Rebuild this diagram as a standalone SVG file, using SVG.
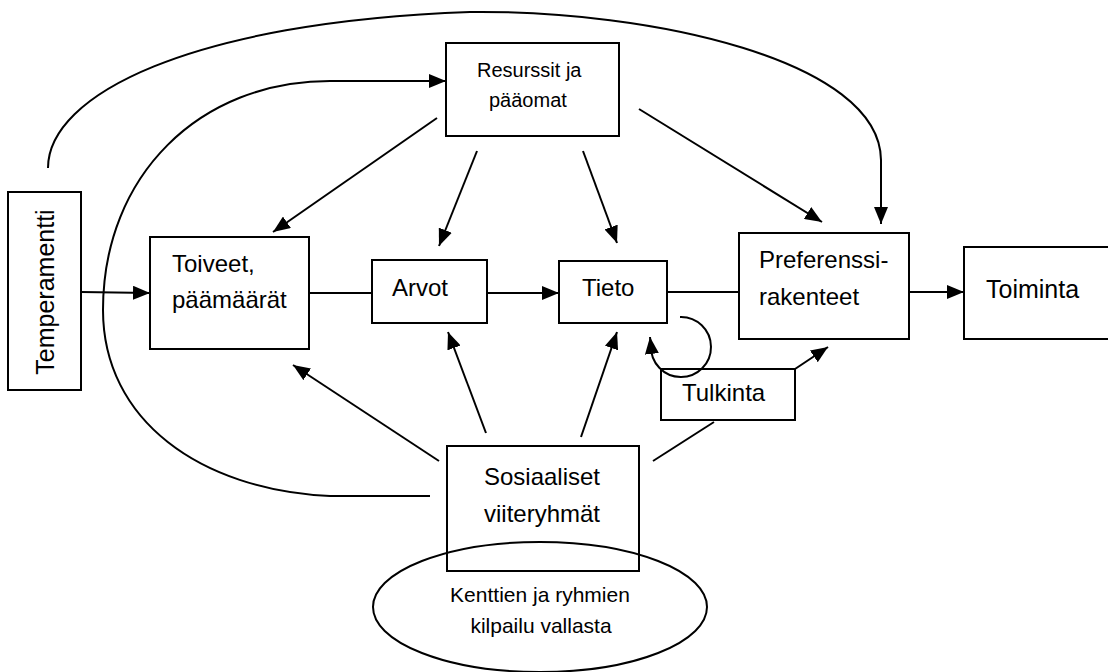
<svg xmlns="http://www.w3.org/2000/svg" width="1108" height="672" viewBox="0 0 1108 672">
  <style>
    .box { fill: #ffffff; stroke: #000000; stroke-width: 2; }
    .ell { fill: none; stroke: #000000; stroke-width: 2; }
    .lbl { font-family: "Liberation Sans", Arial, sans-serif; font-size: 24px; fill: #000000; }
    .sm { font-size: 20px; }
    .ov { font-size: 21px; }
    .mid { text-anchor: middle; }
    .ln { fill: none; stroke: #000000; stroke-width: 2; }
    .arr { marker-end: url(#ah); }
  </style>
  <defs>
    <marker id="ah" markerUnits="userSpaceOnUse" markerWidth="18" markerHeight="14" refX="17" refY="7" orient="auto">
      <path d="M0,0 L17,7 L0,14 z" fill="#000000"/>
    </marker>
  </defs>
  <rect width="1108" height="672" fill="#ffffff"/>

  <g id="temperamentti">
    <rect class="box" x="8" y="192" width="73" height="198"/>
    <text class="lbl mid" style="font-size:25px" transform="translate(54,292) rotate(-90)">Temperamentti</text>
  </g>

  <g id="resurssit">
    <rect class="box" x="446" y="43" width="173" height="93"/>
    <text class="lbl sm" x="477" y="77">Resurssit ja</text>
    <text class="lbl sm" x="489" y="107">pääomat</text>
  </g>

  <g id="toiveet">
    <rect class="box" x="150" y="237" width="159" height="112"/>
    <text class="lbl" x="172" y="272">Toiveet,</text>
    <text class="lbl" x="172" y="308">päämäärät</text>
  </g>

  <g id="arvot">
    <rect class="box" x="372" y="260" width="115" height="63"/>
    <text class="lbl" x="392" y="296">Arvot</text>
  </g>

  <g id="tieto">
    <rect class="box" x="559" y="261" width="108" height="62"/>
    <text class="lbl" x="582" y="296">Tieto</text>
  </g>

  <g id="preferenssi">
    <rect class="box" x="739" y="233" width="170" height="106"/>
    <text class="lbl" x="759" y="268">Preferenssi-</text>
    <text class="lbl" x="759" y="305">rakenteet</text>
  </g>

  <g id="toiminta">
    <rect class="box" x="964" y="247" width="160" height="92"/>
    <text class="lbl" style="font-size:25px" x="986" y="298">Toiminta</text>
  </g>

  <g id="tulkinta">
    <rect class="box" x="661" y="369" width="134" height="51"/>
    <text class="lbl" x="682" y="401">Tulkinta</text>
  </g>

  <g id="sosiaaliset">
    <rect class="box" x="447" y="446" width="192" height="125"/>
    <text class="lbl mid" x="542" y="485">Sosiaaliset</text>
    <text class="lbl mid" x="542" y="522">viiteryhmät</text>
  </g>

  <g id="kilpailu">
    <ellipse class="ell" cx="540" cy="607" rx="167" ry="65"/>
    <text class="lbl ov mid" x="540" y="602">Kenttien ja ryhmien</text>
    <text class="lbl ov mid" x="541" y="633">kilpailu vallasta</text>
  </g>

  <!-- connectors -->
  <g id="connectors">
    <!-- long arc: Temperamentti over the top to Preferenssirakenteet -->
    <path class="ln arr" d="M48,168 C48,95 190,22 470,12 C650,10 880,60 881,160 L881,224"/>
    <!-- arc: Sosiaaliset viiteryhmät round the left to Resurssit ja pääomat -->
    <path class="ln arr" d="M430,496 L330,496 C200,490 103,420 103,310 C103,175 200,81 330,81 L446,81"/>
    <!-- from Resurssit ja pääomat -->
    <line class="ln arr" x1="437" y1="118" x2="273" y2="232"/>
    <line class="ln arr" x1="477" y1="151" x2="439" y2="246"/>
    <line class="ln arr" x1="583" y1="151" x2="617" y2="243"/>
    <line class="ln arr" x1="639" y1="109" x2="822" y2="222"/>
    <!-- main chain -->
    <line class="ln arr" x1="81" y1="292" x2="150" y2="293"/>
    <line class="ln" x1="309" y1="293" x2="372" y2="293"/>
    <line class="ln arr" x1="487" y1="293" x2="559" y2="293"/>
    <line class="ln" x1="667" y1="292" x2="739" y2="292"/>
    <line class="ln arr" x1="909" y1="292" x2="964" y2="292"/>
    <!-- from Sosiaaliset viiteryhmät -->
    <line class="ln arr" x1="439" y1="461" x2="293" y2="365"/>
    <line class="ln arr" x1="486" y1="433" x2="448" y2="332"/>
    <line class="ln arr" x1="581" y1="437" x2="617" y2="332"/>
    <line class="ln" x1="653" y1="461" x2="714" y2="422"/>
    <!-- Tulkinta to Preferenssirakenteet -->
    <line class="ln arr" x1="795" y1="369" x2="828" y2="347"/>
    <!-- loop back into Tieto -->
    <path class="ln arr" d="M680,317 A30,30 0 1 1 651,346 L650,337"/>
  </g>
</svg>
